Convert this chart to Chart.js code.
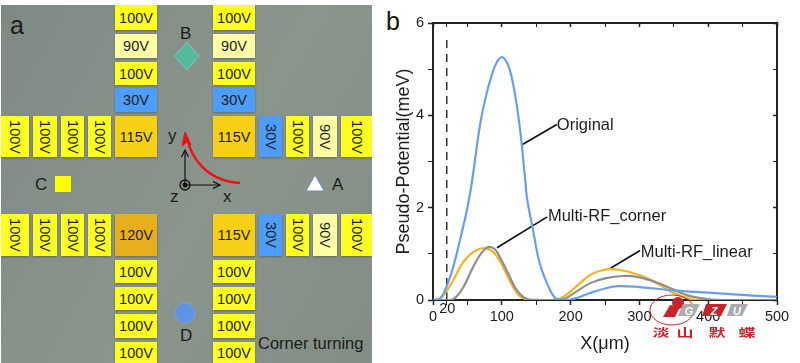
<!DOCTYPE html>
<html>
<head>
<meta charset="utf-8">
<script src="https://cdn.jsdelivr.net/npm/chart.js@4"></script>
<style>
html,body{margin:0;padding:0;background:#fff;width:800px;height:363px;overflow:hidden;font-family:"Liberation Sans",Arial,sans-serif;}
#chip{position:absolute;left:1px;top:5px;width:371px;height:358px;background:linear-gradient(120deg,#7f8a85,#8a958c 55%,#828d86);overflow:hidden;}
.el{position:absolute;display:flex;align-items:center;justify-content:center;font-size:14.5px;color:#1c1c1c;box-shadow:0 1px 2px rgba(60,60,40,.45);}
.el.v span{transform:rotate(90deg);white-space:nowrap;}
.lab{position:absolute;color:#1c1c1c;font-size:17px;line-height:17px;}
#chip svg{position:absolute;left:0;top:0;}
#b{position:absolute;left:386px;top:9px;font-size:25px;line-height:25px;color:#111;}
#plot{position:absolute;left:380px;top:0;}
#wm{position:absolute;left:640px;top:285px;}
</style>
</head>
<body>
<div id="chip"></div>
<div id="b">b</div>
<canvas id="plot" width="420" height="363"></canvas>
<svg id="wm" width="120" height="78"></svg>
<script>
// === panel b data ===
const xOriginal = [0,10,20,30,40,50,57,68,77,85,92,100,108,114,122,129,134,137,145,155,170,180,195,210,228,250,269,300,349,400,421,460,500];
const yOriginal = [0,0.03,0.3,0.75,1.35,2.0,2.6,3.76,4.42,4.85,5.13,5.26,5.13,4.85,4.2,3.37,2.6,2.17,1.55,0.8,0.22,0.02,0,0.05,0.15,0.25,0.3,0.28,0.21,0.16,0.14,0.1,0.07];
const xCorner = [0,10,20,30,43,55,65,75,85,95,105,115,125,136,150,170,185,205,228,245,258,275,300,325,350,378,400,500];
const yCorner = [0,0.02,0.2,0.45,0.8,1.0,1.09,1.12,1.07,0.9,0.62,0.32,0.1,0.01,0,0,0.03,0.25,0.54,0.64,0.67,0.64,0.54,0.37,0.15,0.01,0,0];
const xLinear = [0,25,34,45,54,65,75,81,90,100,110,120,130,140,155,175,190,205,228,250,276,300,325,349,370,393,420,500];
const yLinear = [0,0,0.07,0.3,0.58,0.9,1.1,1.15,1.1,0.85,0.55,0.25,0.08,0.01,0,0,0.02,0.15,0.36,0.47,0.52,0.49,0.38,0.23,0.1,0.03,0,0];
const xMarker = [20,20];
const yMarker = [0,5.65];
const xMajor = [0,100,200,300,400,500];
const xMinor = [20,50,150,250,350,450];
const yMajor = [0,2,4,6];
const yMinor = [1,3,5];
const pairs = (xs,ys)=>xs.map((x,i)=>({x,y:ys[i]}));

// leader lines, in data coordinates
const leaders = [
  {label:'Original', x:[130,180], y:[3.37,3.8], tx:180, ty:3.78},
  {label:'Multi-RF_corner', x:[93,166], y:[1.13,1.8], tx:167, ty:1.8},
  {label:'Multi-RF_linear', x:[258,301], y:[0.69,1.07], tx:302, ty:1.04}
];

const potentialPlugin = {
  id:'potentialDecor',
  afterDraw(chart){
    const c = chart.ctx, sx = chart.scales.x, sy = chart.scales.y;
    c.save();
    c.fillStyle = '#1c1c1c';
    c.font = '16.5px "Liberation Sans"';
    c.textAlign = 'left'; c.textBaseline = 'middle';
    leaders.forEach(l=>c.fillText(l.label,sx.getPixelForValue(l.tx),sy.getPixelForValue(l.ty)));
    c.font = '14.5px "Liberation Sans"';
    c.textAlign = 'center';
    c.fillText('20',sx.getPixelForValue(20)+0.5,309);
    c.restore();
  }
};

const lineSet = (label,xs,ys,color)=>({label,data:pairs(xs,ys),borderColor:color,borderWidth:2.2,pointRadius:0,tension:0.4,fill:false});
const leaderSets = leaders.map(l=>({label:l.label+' leader',data:pairs(l.x,l.y),borderColor:'#111',borderWidth:1.7,pointRadius:0,tension:0}));

// axis helpers: frame and ticks come from the four scales
const frameBorder = {display:true,color:'#222',width:2};
const tickGrid = (len,majors)=>({display:true,drawOnChartArea:false,drawTicks:true,tickLength:len,tickColor:'#222',
  tickWidth:ctx=>majors.includes(ctx.tick&&ctx.tick.value)?1.5:1});
const tickFont = {size:14.5,family:'"Liberation Sans"'};
const titleFont = {size:18,family:'"Liberation Sans"'};

const potentialChart = new Chart(document.getElementById('plot').getContext('2d'), {
  type:'line',
  data:{datasets:[
    lineSet('Original',xOriginal,yOriginal,'#6a9fe6'),
    lineSet('Multi-RF_linear',xLinear,yLinear,'#8f8f8f'),
    lineSet('Multi-RF_corner',xCorner,yCorner,'#f2b422'),
    {label:'x=20',data:pairs(xMarker,yMarker),borderColor:'#333',borderWidth:1.5,borderDash:[8,6],pointRadius:0},
    ...leaderSets
  ]},
  options:{
    responsive:false,animation:false,
    layout:{padding:{top:23,right:23,left:0,bottom:0}},
    plugins:{legend:{display:false},tooltip:{enabled:false}},
    scales:{
      x:{type:'linear',min:0,max:500,
        afterBuildTicks:s=>{s.ticks=xMajor.concat(xMinor).sort((a,b)=>a-b).map(v=>({value:v}));},
        afterFit:s=>{s.height=63;},
        grid:tickGrid(5,xMajor),border:frameBorder,
        ticks:{color:'#1c1c1c',font:tickFont,maxRotation:0,padding:3,autoSkip:false,callback:v=>xMajor.includes(v)?String(v):''},
        title:{display:true,text:'X(μm)',color:'#1c1c1c',font:titleFont,padding:{top:2,bottom:8}}},
      y:{min:0,max:6,
        afterBuildTicks:s=>{s.ticks=yMajor.concat(yMinor).sort((a,b)=>a-b).map(v=>({value:v}));},
        afterFit:s=>{s.width=53;},
        grid:tickGrid(5,yMajor),border:frameBorder,
        ticks:{color:'#1c1c1c',font:tickFont,padding:4,autoSkip:false,callback:v=>yMajor.includes(v)?String(v):''},
        title:{display:true,text:'Pseudo-Potential(meV)',color:'#1c1c1c',font:titleFont,padding:{top:13,bottom:2}}},
      x2:{type:'linear',position:'top',min:0,max:500,
        afterBuildTicks:s=>{s.ticks=xMajor.concat(xMinor).sort((a,b)=>a-b).map(v=>({value:v}));},
        afterFit:s=>{s.height=0;},
        grid:tickGrid(-4,xMajor),border:frameBorder,ticks:{display:false}},
      y2:{position:'right',min:0,max:6,
        afterBuildTicks:s=>{s.ticks=yMajor.concat(yMinor).sort((a,b)=>a-b).map(v=>({value:v}));},
        afterFit:s=>{s.width=0;},
        grid:tickGrid(-4,yMajor),border:frameBorder,ticks:{display:false}}
    }
  },
  plugins:[potentialPlugin]
});

// === panel a schematic ===
const colVolts = {100:'#ffff22',90:'#ffffa4',30:'#4f9dfa',115:'#f8cf17',120:'#e9ae1c'};
const horizontal = [ // label, left, top, width, height
  [100,114,0,42,25],[90,114,29,42,24],[100,114,57,42,23],[30,114,83,42,24],[115,114,111,42,41],
  [100,212,0,42,25],[90,212,29,42,24],[100,212,57,42,23],[30,212,83,42,24],[115,212,111,42,41],
  [120,114,209,42,42],[100,114,255,42,23],[100,114,282,42,23],[100,114,309,42,24],[100,114,337,42,21],
  [115,212,209,42,42],[100,212,255,42,23],[100,212,282,42,23],[100,212,309,42,24],[100,212,337,42,21]
];
const vertical = [
  [100,0,111,28,41],[100,32,111,24,41],[100,60,111,23,41],[100,87,111,23,41],
  [30,258,111,23,41],[100,285,111,23,41],[90,312,111,24,41],[100,340,111,31,41],
  [100,0,209,28,42],[100,32,209,24,42],[100,60,209,23,42],[100,87,209,23,42],
  [30,258,209,23,42],[100,285,209,23,42],[90,312,209,24,42],[100,340,209,31,42]
];
const chip = document.getElementById('chip');
const addEl = (e,v)=>{
  const d = document.createElement('div');
  d.className = 'el'+(v?' v':'');
  d.style.cssText = `left:${e[1]}px;top:${e[2]}px;width:${e[3]}px;height:${e[4]}px;background:${colVolts[e[0]]}`;
  d.innerHTML = `<span>${e[0]}V</span>`;
  chip.appendChild(d);
};
horizontal.forEach(e=>addEl(e,false));
vertical.forEach(e=>addEl(e,true));
chip.insertAdjacentHTML('beforeend',`
<svg width="371" height="358">
  <defs><marker id="ah" markerWidth="8" markerHeight="8" refX="6" refY="3" orient="auto"><path d="M0,0 L6,3 L0,6" fill="none" stroke="#111" stroke-width="1"/></marker></defs>
  <polygon points="186,37 198,51 186,65 173,51" fill="#55b89b" stroke="#7fc3bb"/>
  <rect x="54" y="171" width="16" height="16" fill="#ffff00"/>
  <polygon points="314,170 323,186 305,186" fill="#fff" stroke="#6f8fc0"/>
  <circle cx="184" cy="308" r="10" fill="#5f93e6" stroke="#7fa0d8"/>
  <line x1="184" y1="180" x2="184" y2="145" stroke="#111" stroke-width="1.2" marker-end="url(#ah)"/>
  <line x1="184" y1="180" x2="219" y2="180" stroke="#111" stroke-width="1.2" marker-end="url(#ah)"/>
  <circle cx="184" cy="180" r="5" fill="none" stroke="#111" stroke-width="1.3"/>
  <circle cx="184" cy="180" r="2.5" fill="#111"/>
  <path d="M186,133 C190,152 205,176 239,178" fill="none" stroke="#f01010" stroke-width="2.4"/>
  <path d="M184,127 L181,141 L186,137 L190,140Z" fill="#f01010" stroke="#f01010"/>
</svg>
<div class="lab" style="left:9px;top:8px;font-size:25px;line-height:25px">a</div>
<div class="lab" style="left:179px;top:20px">B</div>
<div class="lab" style="left:34px;top:171px">C</div>
<div class="lab" style="left:331px;top:171px">A</div>
<div class="lab" style="left:179px;top:322px">D</div>
<div class="lab" style="left:167px;top:122px">y</div>
<div class="lab" style="left:222px;top:183px">x</div>
<div class="lab" style="left:169px;top:183px">z</div>
<div class="lab" style="left:257px;top:330px;font-size:16.5px">Corner turning</div>`);

// watermark
document.getElementById('wm').innerHTML = `
  <ellipse cx="32" cy="25" rx="22" ry="15" fill="none" stroke="#c8222a" stroke-width="1"/>
  <circle cx="38" cy="18" r="6" fill="#c8222a"/>
  <path d="M23,32 L30,20 L40,22 L35,32Z" fill="#c8222a"/>
  <polygon points="43,19 60,19 54,31 38,31" fill="#a9adb0"/>
  <polygon points="66,19 87,19 81,31 62,31" fill="#c8222a"/>
  <polygon points="91,19 108,19 102,31 87,31" fill="#a9adb0"/>
  <text x="49" y="30" font-size="11" font-style="italic" font-weight="bold" fill="#fff" text-anchor="middle" font-family="Liberation Sans">G</text>
  <text x="74" y="30" font-size="11" font-style="italic" font-weight="bold" fill="#fff" text-anchor="middle" font-family="Liberation Sans">Z</text>
  <text x="97" y="30" font-size="11" font-style="italic" font-weight="bold" fill="#fff" text-anchor="middle" font-family="Liberation Sans">U</text>
  <g fill="#c8222a" font-family="Noto Sans CJK SC" font-weight="700" font-size="17" text-anchor="middle" transform="scale(1,0.68)">
    <text x="21" y="76">淡</text><text x="45" y="76">山</text><text x="77" y="76">默</text><text x="107" y="76">蝶</text>
  </g>`;
</script>
</body>
</html>
